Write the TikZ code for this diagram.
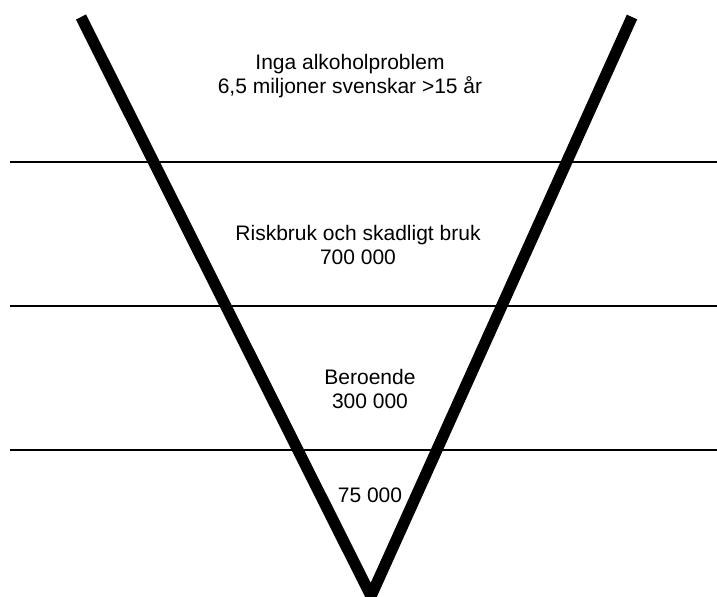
\documentclass[tikz,border=0pt]{standalone}
\usepackage{fontspec}
\setmainfont{Liberation Sans}
\usepackage{tikz}
\tikzset{
  vee/.style={line width=8.5pt,line join=miter,line cap=butt},
  band/.style={line width=1.5pt},
  label/.style={inner sep=0pt,align=center,font=\fontsize{15.75}{17.5}\selectfont}
}

\begin{document}
\begin{tikzpicture}[x=0.75pt,y=-0.75pt]
\clip (0,0) rectangle (717,596);
\fill[white] (0,0) rectangle (717,596);
% horizontal levels
\coordinate (l1) at (10,162);   \coordinate (r1) at (717,162);
\coordinate (l2) at (10,306);   \coordinate (r2) at (717,306);
\coordinate (l3) at (10,450);   \coordinate (r3) at (717,450);
\draw[band] (l1) -- (r1);
\draw[band] (l2) -- (r2);
\draw[band] (l3) -- (r3);
% the V
\coordinate (vtl) at (81,17);
\coordinate (vtip) at (371,596);
\coordinate (vtr) at (632,17);
\draw[vee] (vtl) -- (vtip) -- (vtr);
% labels
\node[label] (inga) at (350,76) {Inga alkoholproblem\\6,5 miljoner svenskar >15 år};
\node[label] (risk) at (358,245) {Riskbruk och skadligt bruk\\700 000};
\node[label] (beroende) at (370,389) {Beroende\\300 000};
\node[label] (sista) at (370,495) {75 000};
\end{tikzpicture}
\end{document}
